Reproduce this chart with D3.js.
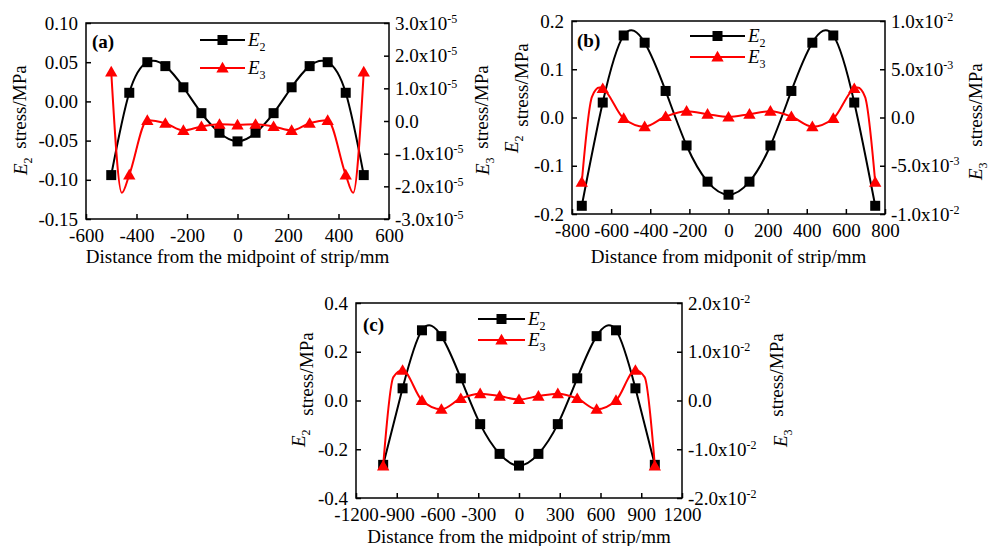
<!DOCTYPE html>
<html><head><meta charset="utf-8">
<script src="https://cdn.jsdelivr.net/npm/d3@7"></script>
<style>
body{margin:0;background:#fff}
svg{display:block;background:#fff}
text{font-family:"Liberation Serif","Times New Roman",serif;fill:#000}
</style>
</head><body>
<svg id="chart" width="1002" height="546"></svg>
<script>
// ---------------- DATA ----------------
// Panel (a)
const xA = [-500,-428.6,-357.1,-285.7,-214.3,-142.9,-71.4,0,71.4,142.9,214.3,285.7,357.1,428.6,500];
const e2A = [-0.094,0.011,0.050,0.045,0.018,-0.015,-0.040,-0.051,-0.040,-0.015,0.018,0.045,0.050,0.011,-0.094];
const e3A = [1.5e-5,-1.65e-5,0.02e-5,-0.07e-5,-0.29e-5,-0.17e-5,-0.10e-5,-0.12e-5,-0.10e-5,-0.17e-5,-0.29e-5,-0.07e-5,0.02e-5,-1.65e-5,1.5e-5];
// E3 curve readings (denser than markers)
const e3LineXA = [-500,-458,-428.6,-357.1,-285.7,-214.3,-142.9,-71.4,0,71.4,142.9,214.3,285.7,357.1,428.6,458,500];
const e3LineA = [1.5e-5,-2.2e-5,-1.65e-5,0.02e-5,-0.07e-5,-0.29e-5,-0.17e-5,-0.10e-5,-0.12e-5,-0.10e-5,-0.17e-5,-0.29e-5,-0.07e-5,0.02e-5,-1.65e-5,-2.2e-5,1.5e-5];
const xTicksA = [-600,-400,-200,0,200,400,600];
const xLabelsA = ["-600","-400","-200","0","200","400","600"];
const yLTicksA = [0.10,0.05,0.00,-0.05,-0.10,-0.15];
const yLLabelsA = ["0.10","0.05","0.00","-0.05","-0.10","-0.15"];
const yRTicksA = [3e-5,2e-5,1e-5,0,-1e-5,-2e-5,-3e-5];
const yRLabelsA = [["3.0x10","-5"],["2.0x10","-5"],["1.0x10","-5"],["0.0",""],["-1.0x10","-5"],["-2.0x10","-5"],["-3.0x10","-5"]];

// Panel (b)
const xB = [-750,-642.9,-535.7,-428.6,-321.4,-214.3,-107.1,0,107.1,214.3,321.4,428.6,535.7,642.9,750];
const e2B = [-0.183,0.031,0.170,0.155,0.055,-0.058,-0.133,-0.160,-0.133,-0.058,0.055,0.155,0.170,0.031,-0.183];
const e3B = [-6.7e-3,3.0e-3,-0.1e-3,-0.95e-3,0.1e-3,0.65e-3,0.35e-3,0.05e-3,0.35e-3,0.65e-3,0.1e-3,-0.95e-3,-0.1e-3,3.0e-3,-6.7e-3];
const e3LineXB = [-750,-698,-660,-642.9,-535.7,-428.6,-321.4,-214.3,-107.1,0,107.1,214.3,321.4,428.6,535.7,642.9,660,698,750];
const e3LineB = [-6.7e-3,2.15e-3,3.1e-3,3.0e-3,-0.1e-3,-0.95e-3,0.1e-3,0.65e-3,0.35e-3,0.05e-3,0.35e-3,0.65e-3,0.1e-3,-0.95e-3,-0.1e-3,3.0e-3,3.1e-3,2.15e-3,-6.7e-3];
const xTicksB = [-800,-600,-400,-200,0,200,400,600,800];
const xLabelsB = ["-800","-600","-400","-200","0","200","400","600","800"];
const yLTicksB = [0.2,0.1,0.0,-0.1,-0.2];
const yLLabelsB = ["0.2","0.1","0.0","-0.1","-0.2"];
const yRTicksB = [1e-2,5e-3,0,-5e-3,-1e-2];
const yRLabelsB = [["1.0x10","-2"],["5.0x10","-3"],["0.0",""],["-5.0x10","-3"],["-1.0x10","-2"]];

// Panel (c)
const xC = [-1000,-857.1,-714.3,-571.4,-428.6,-285.7,-142.9,0,142.9,285.7,428.6,571.4,714.3,857.1,1000];
const e2C = [-0.264,0.050,0.288,0.264,0.091,-0.097,-0.219,-0.267,-0.219,-0.097,0.091,0.264,0.288,0.050,-0.264];
const e3C = [-1.34e-2,0.62e-2,0.0,-0.18e-2,0.04e-2,0.14e-2,0.09e-2,0.02e-2,0.09e-2,0.14e-2,0.04e-2,-0.18e-2,0.0,0.62e-2,-1.34e-2];
const e3LineXC = [-1000,-925,-857.1,-714.3,-571.4,-428.6,-285.7,-142.9,0,142.9,285.7,428.6,571.4,714.3,857.1,925,1000];
const e3LineC = [-1.34e-2,0.48e-2,0.62e-2,0.0,-0.18e-2,0.04e-2,0.14e-2,0.09e-2,0.02e-2,0.09e-2,0.14e-2,0.04e-2,-0.18e-2,0.0,0.62e-2,0.48e-2,-1.34e-2];
const xTicksC = [-1200,-900,-600,-300,0,300,600,900,1200];
const xLabelsC = ["-1200","-900","-600","-300","0","300","600","900","1200"];
const yLTicksC = [0.4,0.2,0.0,-0.2,-0.4];
const yLLabelsC = ["0.4","0.2","0.0","-0.2","-0.4"];
const yRTicksC = [2e-2,1e-2,0,-1e-2,-2e-2];
const yRLabelsC = [["2.0x10","-2"],["1.0x10","-2"],["0.0",""],["-1.0x10","-2"],["-2.0x10","-2"]];

const seriesNames = ["2","3"];
const xTitleA = "Distance from the midpoint of strip/mm";
const xTitleB = "Distance from midponit of strip/mm";
const xTitleC = "Distance from the midpoint of strip/mm";

// ---------------- LAYOUT ----------------
const panels = [
  {label:"(a)", L:86, R:389, T:23, B:219, xs:xA, e2:e2A, e3:e3A, lx:e3LineXA, ly:e3LineA,
   xTicks:xTicksA, xLabels:xLabelsA, yL:yLTicksA, yLL:yLLabelsA, yR:yRTicksA, yRL:yRLabelsA, xTitle:xTitleA,
   titleY:263, lab:[92,48], leg:{x0:200,x1:245,tx:248,y1:40,y2:68},
   yTitL:{ex:27,eb:175,sx:26,sm:107}, yTitR:{ex:489,eb:175,sx:488,sm:107}},
  {label:"(b)", L:572, R:885, T:21, B:214, xs:xB, e2:e2B, e3:e3B, lx:e3LineXB, ly:e3LineB,
   xTicks:xTicksB, xLabels:xLabelsB, yL:yLTicksB, yLL:yLLabelsB, yR:yRTicksB, yRL:yRLabelsB, xTitle:xTitleB,
   titleY:263, lab:[577,47], leg:{x0:690,x1:745,tx:748,y1:36,y2:57},
   yTitL:{ex:518,eb:153,sx:528,sm:85}, yTitR:{ex:982,eb:180,sx:982,sm:105}},
  {label:"(c)", L:356, R:682, T:303, B:498, xs:xC, e2:e2C, e3:e3C, lx:e3LineXC, ly:e3LineC,
   xTicks:xTicksC, xLabels:xLabelsC, yL:yLTicksC, yLL:yLLabelsC, yR:yRTicksC, yRL:yRLabelsC, xTitle:xTitleC,
   titleY:543, lab:[363,331], leg:{x0:478,x1:525,tx:528,y1:319,y2:340},
   yTitL:{ex:305,eb:447,sx:313,sm:374}, yTitR:{ex:787,eb:447,sx:783,sm:375}}
];

const svg = d3.select("#chart");
const RED = "#ff0000";
const TICKFS = 19, TITLEFS = 19;

function eTitle(g, t, sub) {
  const te = g.append("text").attr("transform", `translate(${t.ex},${t.eb}) rotate(-90)`)
    .attr("font-size", TITLEFS);
  te.append("tspan").attr("font-style","italic").text("E");
  te.append("tspan").attr("font-size",12).attr("dy",5).text(sub);
  g.append("text").attr("transform", `translate(${t.sx},${t.sm}) rotate(-90)`)
    .attr("text-anchor","middle").attr("font-size", TITLEFS).text("stress/MPa");
}

function drawPanel(p) {
  const g = svg.append("g");
  const x = d3.scaleLinear().domain(d3.extent(p.xTicks)).range([p.L, p.R]);
  const yl = d3.scaleLinear().domain(d3.extent(p.yL)).range([p.B, p.T]);
  const yr = d3.scaleLinear().domain(d3.extent(p.yR)).range([p.B, p.T]);

  const ax = g.append("g").attr("transform", `translate(0,${p.B})`)
    .call(d3.axisBottom(x).tickValues(p.xTicks).tickFormat((d,i)=>p.xLabels[i])
      .tickSizeInner(-5).tickSizeOuter(0).tickPadding(10));
  const ayl = g.append("g").attr("transform", `translate(${p.L},0)`)
    .call(d3.axisLeft(yl).tickValues(p.yL).tickFormat((d,i)=>p.yLL[i])
      .tickSizeInner(-5).tickSizeOuter(0).tickPadding(8));
  const ayr = g.append("g").attr("transform", `translate(${p.R},0)`)
    .call(d3.axisRight(yr).tickValues(p.yR).tickFormat(()=>"")
      .tickSizeInner(-5).tickSizeOuter(0).tickPadding(6));
  ayr.selectAll(".tick text").each(function(d,i){
    const t = d3.select(this); t.text(null);
    const lab = p.yRL[i];
    t.append("tspan").text(lab[0]);
    if (lab[1]) t.append("tspan").attr("dy", -7).attr("font-size", 12).text(lab[1]);
  });
  [ax, ayl, ayr].forEach(a => {
    a.attr("font-family", null).attr("font-size", TICKFS);
    a.select(".domain").remove();
    a.selectAll(".tick line").attr("stroke","#000").attr("stroke-width",1.5);
    a.selectAll(".tick text").attr("fill","#000");
  });
  g.append("rect").attr("x", p.L).attr("y", p.T).attr("width", p.R-p.L).attr("height", p.B-p.T)
    .attr("fill","none").attr("stroke","#000").attr("stroke-width",1.5);

  // curves
  const lineL = d3.line().x((d,i)=>x(p.xs[i])).y(d=>yl(d)).curve(d3.curveNatural);
  const lineR = d3.line().x((d,i)=>x(p.lx[i])).y(d=>yr(d)).curve(d3.curveMonotoneX);
  g.append("path").attr("d", lineL(p.e2)).attr("fill","none").attr("stroke","#000").attr("stroke-width",2);
  g.selectAll(null).data(p.e2).join("rect")
    .attr("x",(d,i)=>x(p.xs[i])-5).attr("y",d=>yl(d)-5).attr("width",10).attr("height",10).attr("fill","#000");
  g.append("path").attr("d", lineR(p.ly)).attr("fill","none").attr("stroke",RED).attr("stroke-width",2);
  const tri = d3.symbol(d3.symbolTriangle, 66)();
  g.selectAll(null).data(p.e3).join("path")
    .attr("d", tri).attr("transform",(d,i)=>`translate(${x(p.xs[i])},${yr(d)+1})`).attr("fill",RED);

  // legend
  const lg = p.leg;
  [[lg.y1,"#000",seriesNames[0],"sq"],[lg.y2,RED,seriesNames[1],"tri"]].forEach(([yy,c,s,m])=>{
    g.append("line").attr("x1",lg.x0).attr("x2",lg.x1).attr("y1",yy).attr("y2",yy).attr("stroke",c).attr("stroke-width",2);
    const mx = (lg.x0+lg.x1)/2;
    if (m==="sq") g.append("rect").attr("x",mx-5).attr("y",yy-5).attr("width",10).attr("height",10).attr("fill",c);
    else g.append("path").attr("d",tri).attr("transform",`translate(${mx},${yy+1})`).attr("fill",c);
    const t = g.append("text").attr("x",lg.tx).attr("y",yy+6).attr("font-size",TITLEFS);
    t.append("tspan").attr("font-style","italic").text("E");
    t.append("tspan").attr("font-size",12).attr("dy",5).text(s);
  });

  g.append("text").attr("x",p.lab[0]).attr("y",p.lab[1]).attr("font-size",TITLEFS).attr("font-weight","bold").text(p.label);

  g.append("text").attr("x",(p.L+p.R)/2).attr("y",p.titleY).attr("text-anchor","middle")
    .attr("font-size",TITLEFS).text(p.xTitle);
  eTitle(g, p.yTitL, seriesNames[0]);
  eTitle(g, p.yTitR, seriesNames[1]);
}

panels.forEach(drawPanel);
</script>
</body></html>
